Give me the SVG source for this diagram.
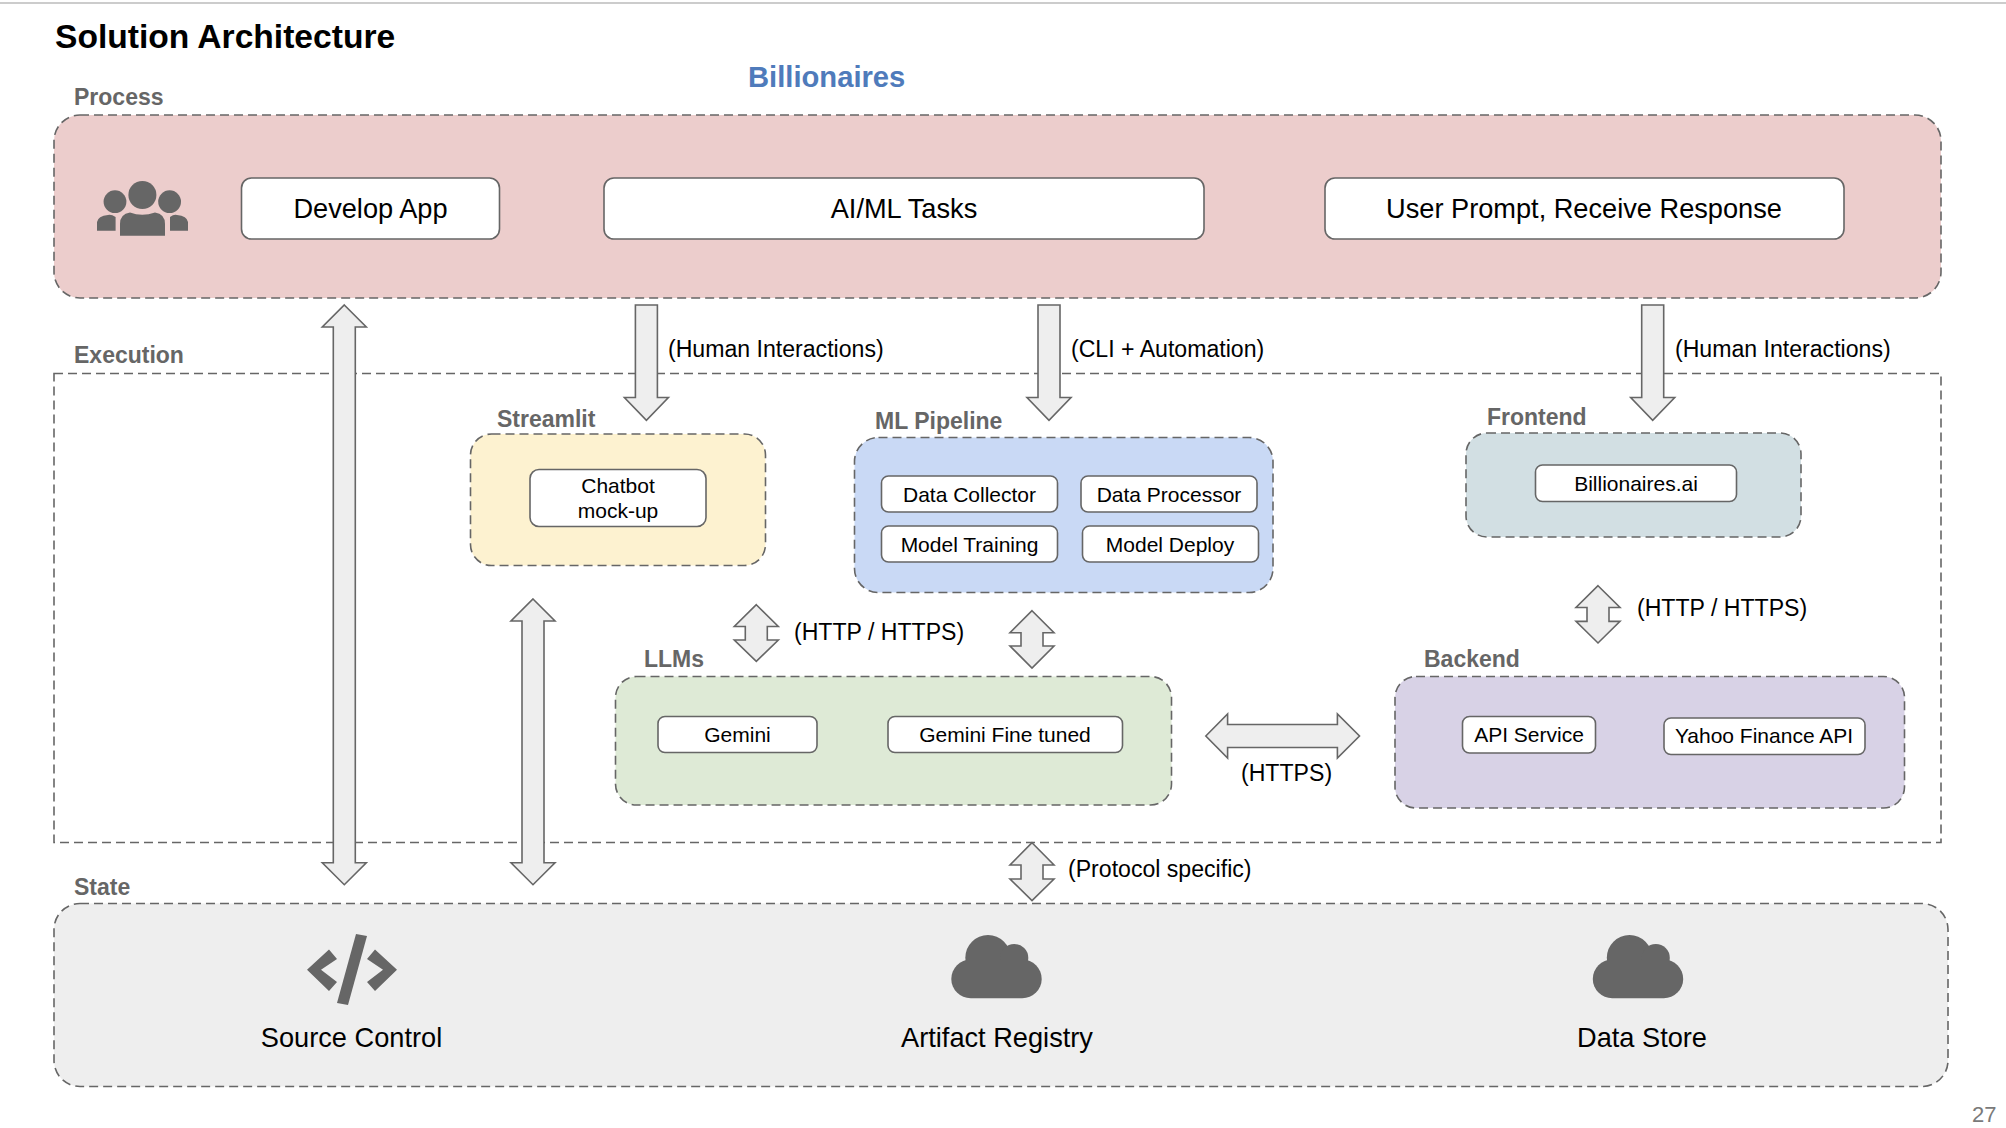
<svg xmlns="http://www.w3.org/2000/svg" width="2006" height="1128" viewBox="0 0 2006 1128">
<defs>
<g id="cloud" class="ico"><circle cx="988" cy="957.700" r="22.700"/><circle cx="1014.300" cy="958" r="14"/><rect x="951.300" y="959.500" width="90.400" height="38.800" rx="19.400"/></g>
</defs>
<style>
text{font-family:"Liberation Sans",Arial,sans-serif;fill:#000}
.lbl{font-weight:700;fill:#666;font-size:23px}
.big{font-size:27.200px;text-anchor:middle}
.mid{font-size:21px;text-anchor:middle}
.edge{font-size:23.100px}
.zone{stroke:#666;stroke-width:1.600;stroke-dasharray:9 5}
.box{fill:#fff;stroke:#666;stroke-width:1.600}
.arr{fill:#eee;stroke:#666;stroke-width:1.600;stroke-linejoin:miter}
.ico{fill:#666}
</style>
<rect width="2006" height="1128" fill="#fff"/>
<rect x="0" y="2" width="2006" height="2" fill="#ccc"/>
<text x="55" y="48" font-size="33.600" font-weight="700">Solution Architecture</text>
<text x="748" y="87" font-size="29.200" font-weight="700" style="fill:#4f7bbb">Billionaires</text>
<g id="process">
<text class="lbl" x="74" y="105">Process</text>
<rect class="zone" x="54" y="115" width="1887" height="183" rx="26" fill="#eccdcc"/>
<g class="ico"><ellipse cx="142.400" cy="195" rx="14" ry="14"/><circle cx="115" cy="201.700" r="11.400"/><circle cx="169.600" cy="201.700" r="11.400"/>
<path d="M120 235.700V224Q120 214 130 212.500Q142 217 155 212.500Q165 214 165 224V235.700Z"/><path d="M97 230.700V222Q98 216 108 215Q111 214 115.600 217V230.700Z"/><path d="M188 230.700V222Q187 216 177 215Q174 214 170 217V230.700Z"/></g>
<g><rect class="box" x="241.500" y="178" width="258" height="61" rx="10"/><text class="big" x="370.500" y="218">Develop App</text></g>
<g><rect class="box" x="604" y="178" width="600" height="61" rx="10"/><text class="big" x="904" y="218">AI/ML Tasks</text></g>
<g><rect class="box" x="1325" y="178" width="519" height="61" rx="10"/><text class="big" x="1584" y="218">User Prompt, Receive Response</text></g>
</g>
<g id="execution">
<text class="lbl" x="74" y="363">Execution</text>
<rect class="zone" x="54" y="373.500" width="1887" height="469" fill="none"/>
</g>
<g id="connectors">
<path class="arr" d="M344.300 305L366.300 327H355.300V862.700H366.300L344.300 884.700L322.300 862.700H333.300V327H322.300Z"/>
<path class="arr" d="M533 599L555 621H544V862.700H555L533 884.700L511 862.700H522V621H511Z"/>
<path class="arr" d="M635.400 305H657.400V397.500H668.400L646.400 420.300L624.400 397.500H635.400Z"/>
<path class="arr" d="M1038 305H1060V397.500H1071L1049 420.300L1027 397.500H1038Z"/>
<path class="arr" d="M1641.700 305H1663.700V397.500H1674.700L1652.700 420.300L1630.700 397.500H1641.700Z"/>
<path class="arr" d="M756.300 604.700L778.300 626.500H767.300V640H778.300L756.300 661.300L734.300 640H745.300V626.500H734.300Z"/>
<path class="arr" d="M1032 610.700L1054 632.700H1043V646H1054L1032 668L1010 646H1021V632.700H1010Z"/>
<path class="arr" d="M1598 585.700L1620 607.500H1609V621.400H1620L1598 643L1576 621.400H1587V607.500H1576Z"/>
<path class="arr" d="M1032 842.700L1054 865H1043V879H1054L1032 900.600L1010 879H1021V865H1010Z"/>
<path class="arr" d="M1205.800 736L1227.600 714V724.500H1337.400V714L1359.500 736L1337.400 758V747.500H1227.600V758Z"/>
</g>
<text class="edge" x="668" y="357">(Human Interactions)</text>
<text class="edge" x="1071" y="357">(CLI + Automation)</text>
<text class="edge" x="1675" y="357">(Human Interactions)</text>
<text class="edge" x="794" y="640">(HTTP / HTTPS)</text>
<text class="edge" x="1637" y="616">(HTTP / HTTPS)</text>
<text class="edge" x="1241" y="781">(HTTPS)</text>
<text class="edge" x="1068" y="877">(Protocol specific)</text>
<g id="streamlit">
<text class="lbl" x="497" y="427">Streamlit</text>
<rect class="zone" x="470.500" y="434" width="295" height="131.500" rx="21" fill="#fdf2d0"/>
<rect class="box" x="530" y="469.500" width="176" height="57" rx="9"/>
<text class="mid" x="618" y="493">Chatbot</text><text class="mid" x="618" y="518">mock-up</text>
</g>
<g id="ml-pipeline">
<text class="lbl" x="875" y="429">ML Pipeline</text>
<rect class="zone" x="854.500" y="437.500" width="418.500" height="155" rx="24" fill="#c9d9f5"/>
<rect class="box" x="881.500" y="476" width="176" height="36" rx="7"/><text class="mid" x="969.500" y="502">Data Collector</text>
<rect class="box" x="1081" y="476" width="176" height="36" rx="7"/><text class="mid" x="1169" y="502">Data Processor</text>
<rect class="box" x="881.500" y="526" width="176" height="36" rx="7"/><text class="mid" x="969.500" y="552">Model Training</text>
<rect class="box" x="1082.500" y="526" width="176" height="36" rx="7"/><text class="mid" x="1170" y="552">Model Deploy</text>
</g>
<g id="llms">
<text class="lbl" x="644" y="667">LLMs</text>
<rect class="zone" x="615.500" y="676.500" width="556" height="128.500" rx="21" fill="#deead6"/>
<rect class="box" x="658" y="716.500" width="159" height="36" rx="7"/><text class="mid" x="737.500" y="742">Gemini</text>
<rect class="box" x="888" y="716.500" width="234.500" height="36" rx="7"/><text class="mid" x="1005" y="742">Gemini Fine tuned</text>
</g>
<g id="frontend">
<text class="lbl" x="1487" y="425">Frontend</text>
<rect class="zone" x="1466" y="433" width="335" height="104" rx="21" fill="#d2dfe3"/>
<rect class="box" x="1535.500" y="465" width="201" height="36.500" rx="7"/><text class="mid" x="1636" y="491">Billionaires.ai</text>
</g>
<g id="backend">
<text class="lbl" x="1424" y="667">Backend</text>
<rect class="zone" x="1395" y="676.500" width="509.500" height="131.500" rx="21" fill="#d8d2e6"/>
<rect class="box" x="1462.500" y="716.500" width="133" height="36.500" rx="7"/><text class="mid" x="1529" y="742">API Service</text>
<rect class="box" x="1664" y="718" width="201" height="36.500" rx="7"/><text class="mid" x="1764" y="743">Yahoo Finance API</text>
</g>
<g id="state">
<text class="lbl" x="74" y="895">State</text>
<rect class="zone" x="54" y="903.500" width="1894" height="183" rx="26" fill="#eee"/>
<g class="ico"><path d="M307 969.700L329 949.500L337 959L321 969.700L337 982L329 991Z"/><path d="M397 969.700L375 949.500L367 959L383 969.700L367 982L375 991Z"/><path d="M356 934L367 936L348 1005L337 1003Z"/></g>
<text class="big" x="351.500" y="1047">Source Control</text>
<use href="#cloud"/>
<text class="big" x="997" y="1047">Artifact Registry</text>
<use href="#cloud" x="641.500"/>
<text class="big" x="1642" y="1047">Data Store</text>
</g>
<text x="1972" y="1121.500" font-size="22" style="fill:#7a7a7a">27</text>
</svg>
